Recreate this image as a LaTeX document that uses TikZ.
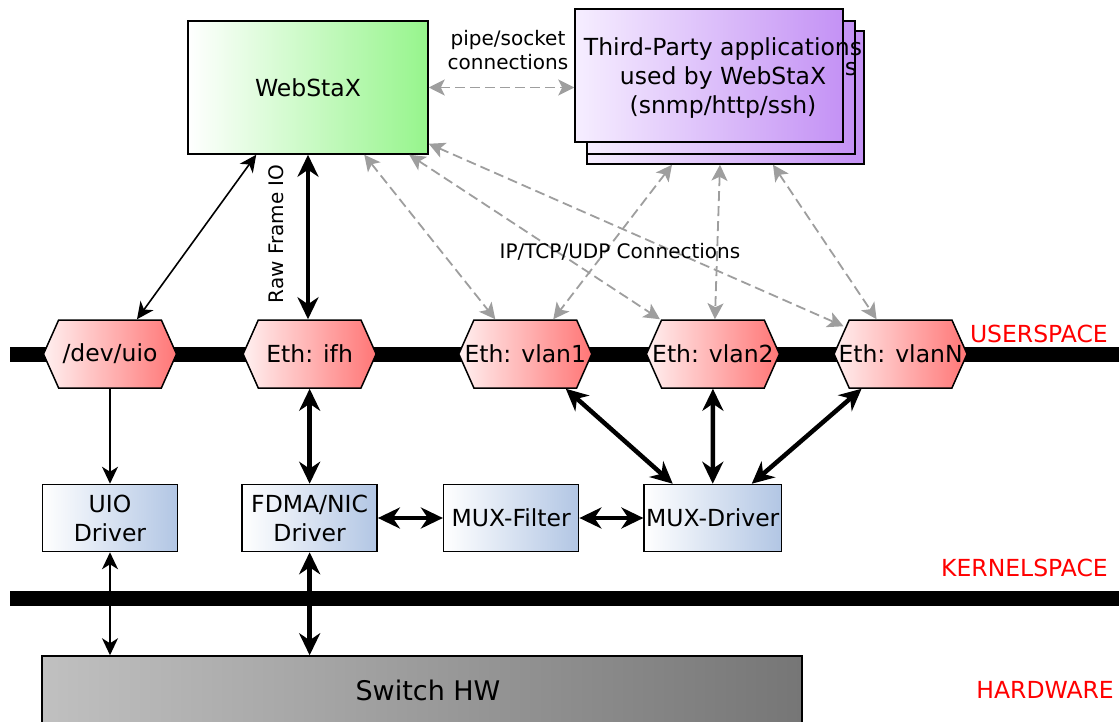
\documentclass[tikz,border=0pt]{standalone}
\usepackage{fontspec}
\setmainfont{DejaVu Sans}
\usetikzlibrary{positioning, arrows.meta, shapes.symbols}
\definecolor{webgreen}{RGB}{150,245,140}
\definecolor{appviolet}{RGB}{196,146,245}
\definecolor{appwhite}{RGB}{246,238,255}
\definecolor{hexred}{RGB}{255,118,118}
\definecolor{hexwhite}{RGB}{255,240,240}
\definecolor{drvblue}{RGB}{178,198,228}
\definecolor{hwlight}{RGB}{192,192,192}
\definecolor{hwdark}{RGB}{118,118,118}
\definecolor{conngray}{RGB}{158,158,158}
\newcommand{\bigtxt}{\fontsize{23.5}{29}\selectfont}
\newcommand{\smalltxt}{\fontsize{20}{24}\selectfont}
\tikzset{
	layerbar/.style={line width=15pt},
	layertext/.style={font=\bigtxt, text=red, anchor=east, inner sep=0pt},
	webbox/.style={draw, line width=1.5pt, minimum width=240pt, minimum height=133pt, font=\bigtxt, left color=white, right color=webgreen},
	appbox/.style={draw, line width=1.5pt, minimum height=133pt, left color=appwhite, right color=appviolet},
	apptext/.style={font=\bigtxt, align=center, inner sep=0pt},
	hexa/.style={signal, signal to=west and east, signal pointer angle=132, draw, line width=1.5pt, minimum width=133pt, minimum height=68pt, inner xsep=-12pt, inner ysep=0pt, font=\bigtxt, left color=hexwhite, right color=hexred},
	drv/.style={draw, line width=1.5pt, minimum width=135pt, minimum height=67pt, inner sep=2pt, align=center, font=\bigtxt, left color=white, right color=drvblue},
	hwbox/.style={draw, line width=1.5pt, minimum width=760pt, minimum height=68pt, left color=hwlight, right color=hwdark},
	smalltext/.style={font=\smalltxt, align=center, inner sep=0pt},
	fatarrow/.style={line width=4.5pt, {Stealth[length=22pt,width=21pt,inset=7pt]}-{Stealth[length=22pt,width=21pt,inset=7pt]}},
	thinarrow/.style={line width=1.6pt, {Stealth[length=17pt,width=16pt,inset=5pt]}-{Stealth[length=17pt,width=16pt,inset=5pt]}},
	thinarrowend/.style={line width=1.6pt, -{Stealth[length=17pt,width=16pt,inset=5pt]}},
	dasharrow/.style={conngray, line width=1.8pt, dash pattern=on 10pt off 5pt, {Stealth[length=16pt,width=16pt,inset=4pt]}-{Stealth[length=16pt,width=16pt,inset=4pt]}}
}

\begin{document}
\begin{tikzpicture}[x=1pt, y=-1pt]
	\useasboundingbox (0,0) rectangle (1119,722);

	% layer bars
	\draw[layerbar] (10,354) -- (1119,354);
	\draw[layerbar] (10,598) -- (1119,598);
	\node[layertext] (userspace) at (1108,334) {USERSPACE};
	\node[layertext] (kernelspace) at (1108,568) {KERNELSPACE};
	\node[layertext] (hardware) at (1114,690) {HARDWARE};

	% userspace applications
	\node[webbox] (web) at (308,87.5) {WebStaX};
	\node[appbox, minimum width=277pt] (appback) at (725.5,97.5) {};
	\node[appbox, minimum width=268pt] (appmid) at (721,87.5) {};
	\node[apptext] (appghost) at (851,69) {s};
	\node[appbox, minimum width=268pt] (app) at (709,75.5) {};
	\node[apptext] (apptxt) at (723,78.5) {Third-Party applications\\used by WebStaX\\(snmp/http/ssh)};

	% interfaces
	\node[hexa] (uio) at (110,354) {/dev/uio};
	\node[hexa, right=65pt of uio] (ifh) {Eth: ifh};
	\node[hexa, right=81pt of ifh] (vlan1) {Eth: vlan1};
	\node[hexa, right=53pt of vlan1] (vlan2) {Eth: vlan2};
	\node[hexa, right=53pt of vlan2] (vlanN) {Eth: vlanN};

	% kernel drivers
	\node[drv, below=95pt of uio] (uiodrv) {UIO\\Driver};
	\node[drv, below=95pt of ifh] (fdma) {FDMA/NIC\\Driver};
	\node[drv, right=65pt of fdma] (muxf) {MUX-Filter};
	\node[drv, right=64pt of muxf] (muxd) {MUX-Driver};

	\node[hwbox] (hw) at (422,690) {};
	\node[font=\fontsize{27}{32}\selectfont] (hwtxt) at (428,690) {Switch HW};

	% connections
	\draw[dasharrow] (web.east) -- (web.east -| app.west);
	\node[smalltext] (pipe) at (508,50) {pipe/socket\\connections};
	\draw[dasharrow] ([xshift=177pt]web.south west) -- ([xshift=-30pt]vlan1.north);
	\draw[dasharrow] ([xshift=222pt]web.south west) -- ([xshift=-53pt]vlan2.north);
	\draw[dasharrow] ([yshift=11pt]web.south east) -- ([xshift=-57pt,yshift=-7pt]vlanN.north);
	\draw[dasharrow] ([xshift=-53.5pt]appback.south) -- ([xshift=28pt]vlan1.north);
	\draw[dasharrow] ([xshift=-5.5pt]appback.south) -- ([xshift=2pt]vlan2.north);
	\draw[dasharrow] ([xshift=47.5pt]appback.south) -- ([xshift=-24pt]vlanN.north);
	\node[smalltext] (iptcp) at (620,252) {IP/TCP/UDP Connections};

	\draw[thinarrow] ([xshift=69pt]web.south west) -- ([xshift=27pt]uio.north);
	\draw[fatarrow] (web.south) -- (web.south |- ifh.north);
	\node[smalltext, rotate=90] (rawio) at (276,234) {Raw Frame IO};

	\draw[thinarrowend] (uio.south) -- (uiodrv.north);
	\draw[fatarrow] (ifh.south) -- (fdma.north);
	\draw[fatarrow] (fdma.east) -- (muxf.west);
	\draw[fatarrow] (muxf.east) -- (muxd.west);
	\draw[fatarrow] ([xshift=40.5pt]vlan1.south) -- ([xshift=-40pt]muxd.north);
	\draw[fatarrow] (vlan2.south) -- (muxd.north);
	\draw[fatarrow] ([xshift=-39pt]vlanN.south) -- ([xshift=39pt]muxd.north);
	\draw[thinarrow] (uiodrv.south) -- (uiodrv.south |- hw.north);
	\draw[fatarrow] (fdma.south) -- (fdma.south |- hw.north);
\end{tikzpicture}
\end{document}
